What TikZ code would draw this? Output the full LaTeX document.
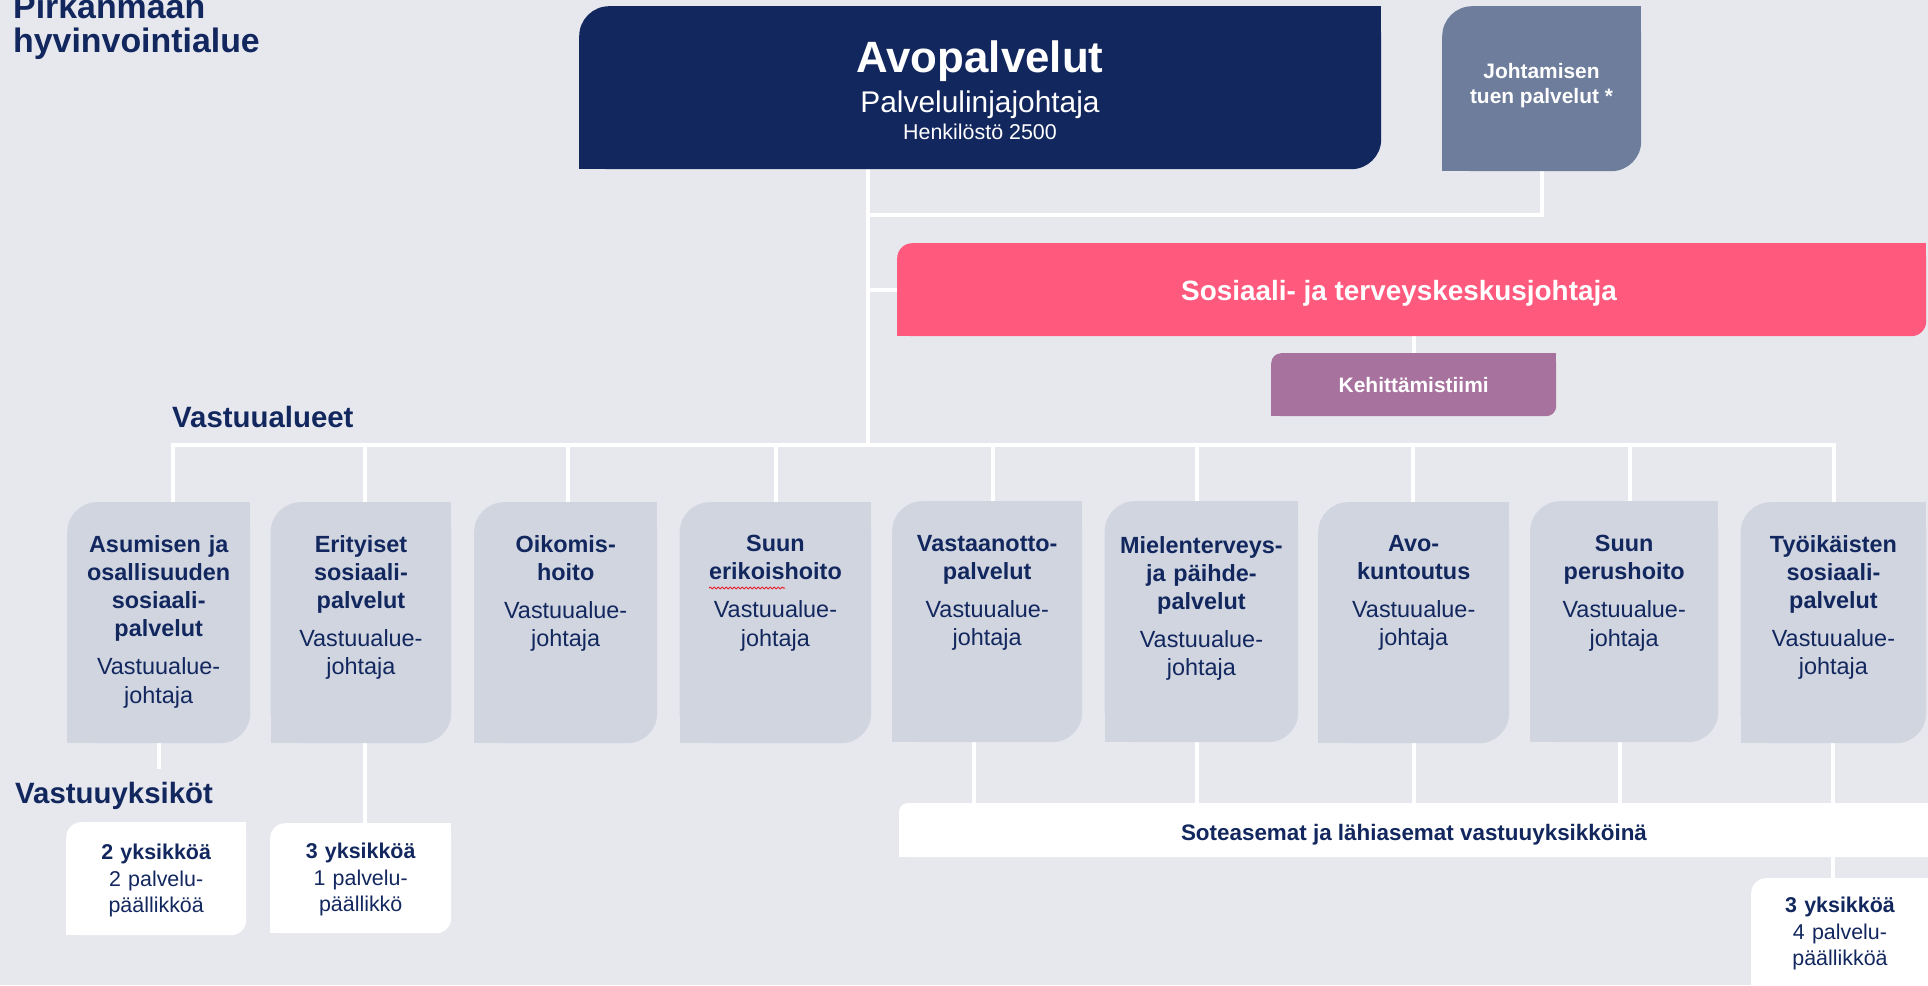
\documentclass[tikz,border=0pt]{standalone}
\usepackage{fontspec}
\setmainfont{Liberation Sans}
\usetikzlibrary{decorations.pathmorphing}
\definecolor{bgcol}{HTML}{E7E8EE}
\definecolor{navy}{HTML}{12275E}
\definecolor{slate}{HTML}{6E7D9C}
\definecolor{rose}{HTML}{FF597E}
\definecolor{mauve}{HTML}{A8729F}
\definecolor{pale}{HTML}{D0D5E0}
\definecolor{spell}{HTML}{E8202A}
\pgfdeclarelayer{back}
\pgfsetlayers{back,main}
% square off the north east and south west corners of a rounded node
\newcommand\squareoff[3]{%
  \fill[#2] (#1.north east) rectangle ++(-#3,#3);
  \fill[#2] (#1.south west) rectangle ++(#3,-#3);}
\begin{document}
\begin{tikzpicture}[x=1bp,y=-1bp,line join=bevel,
  link/.style={white,line width=4bp,line cap=rect},
  card/.style={draw=none,inner sep=0pt,anchor=north west,rounded corners=#1},
  card/.default=30bp,
  areabox/.style={card,fill=pale,minimum height=241bp},
  areatext/.style={anchor=north,inner sep=0pt,text width=185bp,align=center,text=navy,font=\fontsize{23.5}{28.3}\selectfont},
  unitbox/.style={card=15bp,fill=white},
  unittext/.style={anchor=north,inner sep=0pt,text width=170bp,align=center,text=navy,font=\fontsize{21.5}{26.5}\selectfont},
  heading/.style={inner sep=0pt,text=navy,font=\bfseries\fontsize{29.5}{30}\selectfont}]
\useasboundingbox (0,0) rectangle (1928,985);
\clip (0,0) rectangle (1928,985);
%% top of the chart
\node[anchor=north west,inner sep=0pt,align=left,text=navy,font=\bfseries\fontsize{34}{34}\selectfont] (region) at (13,-6) {Pirkanmaan\\hyvinvointialue};
\node[card,fill=navy,minimum width=802bp,minimum height=163bp] (avo) at (579,6) {};
\squareoff{avo}{navy}{30}
\node[anchor=base,inner sep=0pt,text=white,font=\bfseries\fontsize{44}{44}\selectfont] (avoT) at (980,72) {Avopalvelut};
\node[anchor=base,inner sep=0pt,text=white,font=\fontsize{30}{30}\selectfont] (avoR) at (980,112) {Palvelulinjajohtaja};
\node[anchor=base,inner sep=0pt,text=white,font=\fontsize{21.5}{22}\selectfont] (avoS) at (980,139) {Henkilöstö 2500};
\node[card,fill=slate,minimum width=199bp,minimum height=165bp] (johto) at (1442,6) {};
\squareoff{johto}{slate}{30}
\node[anchor=north,inner sep=0pt,align=center,text=white,font=\bfseries\fontsize{21}{25}\selectfont] (johtoT) at (1541.5,63) {Johtamisen\\tuen palvelut *};
\node[card=15bp,fill=rose,minimum width=1029bp,minimum height=93bp] (stjoht) at (897,243) {};
\squareoff{stjoht}{rose}{15}
\node[anchor=base,inner sep=0pt,text=white,font=\bfseries\fontsize{28}{28}\selectfont] (stjohtT) at (1399,300) {Sosiaali- ja terveyskeskusjohtaja};
\node[card=10bp,fill=mauve,minimum width=285bp,minimum height=63bp,text=white,font=\bfseries\fontsize{21}{21}\selectfont] (kehi) at (1271,353) {Kehittämistiimi};
\squareoff{kehi}{mauve}{10}
%% vastuualueet
\node[heading,anchor=base west] (areasT) at (172,427) {Vastuualueet};
\node[areabox,minimum width=183bp] (a1) at (67,502) {};
\node[areabox,minimum width=180.5bp] (a2) at (270.5,502) {};
\node[areabox,minimum width=183bp] (a3) at (474,502) {};
\node[areabox,minimum width=191.5bp] (a4) at (679.5,502) {};
\node[areabox,minimum width=190bp] (a5) at (892,501) {};
\node[areabox,minimum width=193.5bp] (a6) at (1104.5,501) {};
\node[areabox,minimum width=191bp] (a7) at (1318,502) {};
\node[areabox,minimum width=188bp] (a8) at (1530,501) {};
\node[areabox,minimum width=185.5bp] (a9) at (1740.5,502) {};
\foreach \n in {a1,a2,a3,a4,a5,a6,a7,a8,a9} {\squareoff{\n}{pale}{30}}
\node[areatext] (t1) at ([yshift=-33bp]a1.north) {{\bfseries Asumisen ja\\osallisuuden\\sosiaali-\\palvelut}\\[10bp]Vastuualue-\\johtaja};
\node[areatext] (t2) at ([yshift=-33bp]a2.north) {{\bfseries Erityiset\\sosiaali-\\palvelut}\\[10bp]Vastuualue-\\johtaja};
\node[areatext] (t3) at ([yshift=-33bp]a3.north) {{\bfseries Oikomis-\\hoito}\\[10bp]Vastuualue-\\johtaja};
\node[areatext] (t4) at ([yshift=-33bp]a4.north) {{\bfseries Suun\\erikoishoito}\\[10bp]Vastuualue-\\johtaja};
\node[areatext] (t5) at ([yshift=-34bp]a5.north) {{\bfseries Vastaanotto-\\palvelut}\\[10bp]Vastuualue-\\johtaja};
\node[areatext] (t6) at ([yshift=-35bp]a6.north) {{\bfseries Mielenterveys-\\ja päihde-\\palvelut}\\[10bp]Vastuualue-\\johtaja};
\node[areatext] (t7) at ([yshift=-33bp]a7.north) {{\bfseries Avo-\\kuntoutus}\\[10bp]Vastuualue-\\johtaja};
\node[areatext] (t8) at ([yshift=-34bp]a8.north) {{\bfseries Suun\\perushoito}\\[10bp]Vastuualue-\\johtaja};
\node[areatext] (t9) at ([yshift=-33bp]a9.north) {{\bfseries Työikäisten\\sosiaali-\\palvelut}\\[10bp]Vastuualue-\\johtaja};
\draw[spell,line width=1bp,decorate,decoration={snake,amplitude=0.9bp,segment length=4bp}] (709,588) -- (785,588);
%% vastuuyksiköt
\node[unitbox,minimum width=180bp,minimum height=113bp] (u1) at (66,822) {};
\squareoff{u1}{white}{15}
\node[unittext] (v1) at ([yshift=-22bp]u1.north) {{\bfseries 2 yksikköä}\\2 palvelu-\\päällikköä};
\node[unitbox,minimum width=181bp,minimum height=110bp] (u2) at (270,823) {};
\squareoff{u2}{white}{15}
\node[unittext] (v2) at ([yshift=-20bp]u2.north) {{\bfseries 3 yksikköä}\\1 palvelu-\\päällikkö};
\node[card=8bp,fill=white,minimum width=1060bp,minimum height=54bp] (asemat) at (899,803) {};
\squareoff{asemat}{white}{8}
\node[anchor=base,inner sep=0pt,text=navy,font=\bfseries\fontsize{22.5}{23}\selectfont] (asematT) at (1414,840) {Soteasemat ja lähiasemat vastuuyksikköinä};
\node[unitbox,minimum width=200bp,minimum height=150bp] (u3) at (1751,878) {};
\squareoff{u3}{white}{15}
\node[unittext] (v3) at (1840,897) {{\bfseries 3 yksikköä}\\4 palvelu-\\päällikköä};
\node[heading,anchor=base west,fill=bgcol,inner ysep=13bp,inner xsep=2bp] (unitsT) at (13,803) {Vastuuyksiköt};
%% connectors
\begin{pgfonlayer}{back}
\fill[bgcol] (0,0) rectangle (1928,985);
\coordinate (trunk) at (868,169);
\coordinate (bus) at (868,445);
\coordinate (tj) at (868,215);
\draw[link] (trunk) -- (bus);
\draw[link] (johto.south) |- (tj);
\draw[link] (stjoht.west) -- (stjoht.west -| trunk);
\draw[link] (stjoht.south -| kehi.north) -- (kehi.north);
\coordinate (busL) at (173,445);
\coordinate (busR) at (1834,445);
\draw[link] (busL) -- (busR);
\foreach \x/\n in {173/a1,365/a2,568/a3,776/a4,993/a5,1197/a6,1413/a7,1630/a8,1834/a9}
  {\coordinate (d\n) at (\x,445);
   \draw[link] (d\n) -- (d\n |- \n.north);}
\draw[link] (a1.south) -- (a1.south |- u1.north);
\draw[link] ([xshift=4bp]a2.south) -- ([xshift=4bp]a2.south |- u2.north);
\draw[link] ([xshift=-13bp]a5.south) -- ([xshift=-13bp]a5.south |- asemat.north);
\draw[link] ([xshift=-4bp]a6.south) -- ([xshift=-4bp]a6.south |- asemat.north);
\draw[link] (a7.south) -- (a7.south |- asemat.north);
\draw[link] ([xshift=-4bp]a8.south) -- ([xshift=-4bp]a8.south |- asemat.north);
\draw[link] (a9.south) -- (a9.south |- u3.north);
\end{pgfonlayer}
\end{tikzpicture}
\end{document}
